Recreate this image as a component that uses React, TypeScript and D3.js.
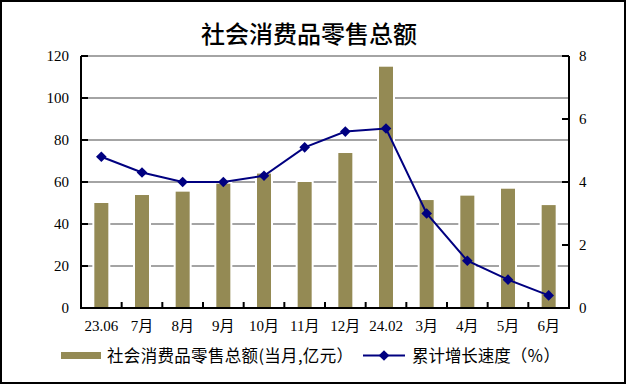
import React, { useEffect, useRef } from 'react';
import * as d3 from 'd3';

// monthly retail sales (100M yuan) and cumulative growth (%)
const categories = ['23.06', '7月', '8月', '9月', '10月', '11月', '12月', '24.02', '3月', '4月', '5月', '6月'];
const salesValues = [50.0, 53.8, 55.4, 59.2, 64.0, 60.0, 73.8, 114.9, 51.4, 53.5, 56.8, 49.0];
const growthValues = [4.8, 4.3, 4.0, 4.0, 4.2, 5.1, 5.6, 5.7, 3.0, 1.5, 0.9, 0.4];
const leftTicks = [0, 20, 40, 60, 80, 100, 120];
const rightTicks = [0, 2, 4, 6, 8];

const title = '社会消费品零售总额';
const barLegend = '社会消费品零售总额(当月,亿元）';
const lineLegend = '累计增长速度（％）';

const W = 626;
const H = 384;
const BAR_COLOR = '#948a54';
const LINE_COLOR = '#000080';
const SERIF = '"Liberation Serif", "Noto Sans CJK SC", serif';
const CJK = '"Noto Sans CJK SC", sans-serif';

export default function App() {
  const ref = useRef<SVGSVGElement>(null);

  useEffect(() => {
    const svg = d3.select(ref.current);
    svg.selectAll('*').remove();

    const pad = { left: 81, right: W - 569, top: 56, bottom: H - 308 };

    const x = d3.scaleBand<string>()
      .domain(categories)
      .range([pad.left, W - pad.right])
      .padding(0);
    const yL = d3.scaleLinear().domain([0, 120]).range([H - pad.bottom, pad.top]);
    const yR = d3.scaleLinear().domain([0, 8]).range([H - pad.bottom, pad.top]);

    // outer frame
    svg.append('rect')
      .attr('x', 1).attr('y', 1)
      .attr('width', W - 2).attr('height', H - 2)
      .attr('fill', '#fff')
      .attr('stroke', '#000')
      .attr('stroke-width', 2);

    svg.append('text')
      .attr('x', 309).attr('y', 32)
      .attr('text-anchor', 'middle')
      .attr('dominant-baseline', 'central')
      .attr('font-family', CJK)
      .attr('font-size', 24)
      .attr('font-weight', 500)
      .text(title);

    // gridlines
    svg.append('g')
      .selectAll('line')
      .data(leftTicks.filter(t => t > 0))
      .enter()
      .append('line')
      .attr('x1', pad.left).attr('x2', W - pad.right)
      .attr('y1', d => yL(d)).attr('y2', d => yL(d))
      .attr('stroke', '#868686')
      .attr('stroke-width', 1.5);

    // bars: white halo first, then fill
    const bw = 14;
    svg.append('g')
      .selectAll('rect')
      .data(salesValues)
      .enter()
      .append('rect')
      .attr('x', (d, i) => x(categories[i])! + x.bandwidth() / 2 - bw / 2)
      .attr('y', d => yL(d))
      .attr('width', bw)
      .attr('height', d => yL(0) - yL(d))
      .attr('fill', BAR_COLOR)
      .attr('stroke', '#fff')
      .attr('stroke-width', 4);

    svg.append('g')
      .selectAll('rect')
      .data(salesValues)
      .enter()
      .append('rect')
      .attr('x', (d, i) => x(categories[i])! + x.bandwidth() / 2 - bw / 2)
      .attr('y', d => yL(d))
      .attr('width', bw)
      .attr('height', d => yL(0) - yL(d))
      .attr('fill', BAR_COLOR);

    // axes lines
    const axes = svg.append('g').attr('stroke', '#000').attr('stroke-width', 2);
    axes.append('line')
      .attr('x1', pad.left).attr('x2', pad.left)
      .attr('y1', yL(120)).attr('y2', yL(0) + 1);
    axes.append('line')
      .attr('x1', W - pad.right).attr('x2', W - pad.right)
      .attr('y1', yR(8)).attr('y2', yR(0) + 1);
    axes.append('line')
      .attr('x1', pad.left).attr('x2', W - pad.right)
      .attr('y1', yL(0)).attr('y2', yL(0));

    // left ticks (inside)
    axes.selectAll('.lt')
      .data(leftTicks)
      .enter()
      .append('line')
      .attr('x1', pad.left).attr('x2', pad.left + 7)
      .attr('y1', d => yL(d)).attr('y2', d => yL(d));
    // right ticks (inside)
    axes.selectAll('.rt')
      .data(rightTicks)
      .enter()
      .append('line')
      .attr('x1', W - pad.right - 7).attr('x2', W - pad.right)
      .attr('y1', d => yR(d)).attr('y2', d => yR(d));
    // category ticks (upwards)
    axes.selectAll('.xt')
      .data(categories.slice(1))
      .enter()
      .append('line')
      .attr('x1', d => x(d)!).attr('x2', d => x(d)!)
      .attr('y1', yL(0) - 6).attr('y2', yL(0));

    // tick labels
    svg.append('g')
      .selectAll('text')
      .data(leftTicks)
      .enter()
      .append('text')
      .attr('x', 69).attr('y', d => yL(d))
      .attr('text-anchor', 'end')
      .attr('dominant-baseline', 'central')
      .attr('font-family', SERIF)
      .attr('font-size', 15)
      .text(d => d);

    svg.append('g')
      .selectAll('text')
      .data(rightTicks)
      .enter()
      .append('text')
      .attr('x', 579).attr('y', d => yR(d))
      .attr('dominant-baseline', 'central')
      .attr('font-family', SERIF)
      .attr('font-size', 15)
      .text(d => d);

    svg.append('g')
      .selectAll('text')
      .data(categories)
      .enter()
      .append('text')
      .attr('x', d => x(d)! + x.bandwidth() / 2)
      .attr('y', 331)
      .attr('text-anchor', 'middle')
      .attr('font-family', SERIF)
      .attr('font-size', 15)
      .text(d => d);

    // growth line
    const line = d3.line<number>()
      .x((d, i) => x(categories[i])! + x.bandwidth() / 2)
      .y(d => yR(d));
    svg.append('path')
      .attr('d', line(growthValues)!)
      .attr('fill', 'none')
      .attr('stroke', LINE_COLOR)
      .attr('stroke-width', 2);

    const diamond = d3.symbol().type(d3.symbolDiamond2).size(72);
    svg.append('g')
      .selectAll('path')
      .data(growthValues)
      .enter()
      .append('path')
      .attr('transform', (d, i) => `translate(${x(categories[i])! + x.bandwidth() / 2},${yR(d)})`)
      .attr('d', diamond()!)
      .attr('fill', LINE_COLOR);

    // legend
    const lg = svg.append('g');
    lg.append('rect')
      .attr('x', 61).attr('y', 352)
      .attr('width', 40).attr('height', 7)
      .attr('fill', BAR_COLOR);
    lg.append('text')
      .attr('x', 107).attr('y', 355)
      .attr('dominant-baseline', 'central')
      .attr('font-family', CJK)
      .attr('font-size', 16.5)
      .attr('textLength', 246)
      .attr('lengthAdjust', 'spacing')
      .text(barLegend);
    lg.append('line')
      .attr('x1', 363).attr('x2', 405)
      .attr('y1', 355.5).attr('y2', 355.5)
      .attr('stroke', LINE_COLOR)
      .attr('stroke-width', 2);
    lg.append('path')
      .attr('transform', 'translate(384,355.5)')
      .attr('d', diamond()!)
      .attr('fill', LINE_COLOR);
    lg.append('text')
      .attr('x', 412).attr('y', 355)
      .attr('dominant-baseline', 'central')
      .attr('font-family', CJK)
      .attr('font-size', 16.5)
      .attr('textLength', 148)
      .attr('lengthAdjust', 'spacing')
      .text(lineLegend);
  }, []);

  return (
    <svg
      ref={ref}
      width={W}
      height={H}
      style={{ position: 'absolute', left: 0, top: 0, background: '#fff' }}
    />
  );
}
